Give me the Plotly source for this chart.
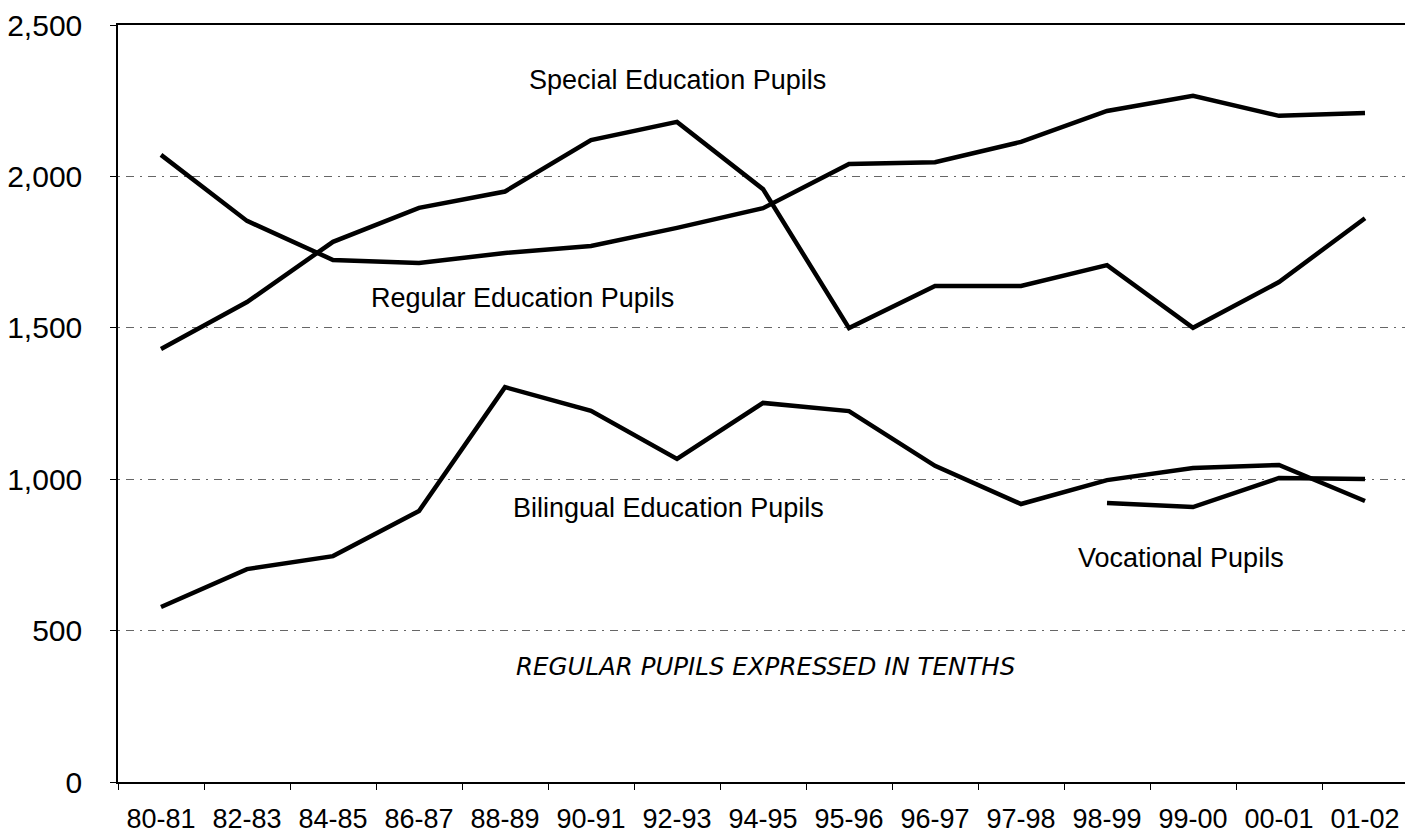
import plotly.graph_objects as go

years = ["80-81", "82-83", "84-85", "86-87", "88-89", "90-91", "92-93", "94-95",
         "95-96", "96-97", "97-98", "98-99", "99-00", "00-01", "01-02"]

regular_tenths = [2071, 1853, 1724, 1714, 1747, 1770, 1830, 1895,
                  2041, 2047, 2114, 2216, 2266, 2200, 2209]
special = [1430, 1585, 1784, 1896, 1950, 2120, 2180, 1958,
           1499, 1638, 1638, 1707, 1500, 1651, 1862]
bilingual = [578, 703, 746, 895, 1304, 1226, 1067, 1252,
             1225, 1044, 918, 997, 1037, 1047, 928]
vocational = [None, None, None, None, None, None, None, None,
              None, None, None, 921, 908, 1004, 1001]

series = [
    ("Regular Education Pupils", regular_tenths),
    ("Special Education Pupils", special),
    ("Bilingual Education Pupils", bilingual),
    ("Vocational Pupils", vocational),
]

fig = go.Figure()
for name, vals in series:
    fig.add_trace(go.Scatter(
        x=years, y=vals, mode="lines", name=name,
        line=dict(color="#000000", width=4.5),
        connectgaps=False, showlegend=False,
    ))

label_font = dict(family="Liberation Sans, Arial, sans-serif", size=27, color="#000000")
labels = [
    ("Special Education Pupils", 6.01, 2318),
    ("Regular Education Pupils", 4.20, 1598),
    ("Bilingual Education Pupils", 5.90, 905),
    ("Vocational Pupils", 11.86, 740),
]
for text, xi, yv in labels:
    fig.add_annotation(x=xi, y=yv, xref="x", yref="y", text=text,
                       showarrow=False, font=label_font,
                       xanchor="center", yanchor="middle")

fig.add_annotation(x=7.03, y=380, xref="x", yref="y",
                   text="REGULAR PUPILS EXPRESSED IN TENTHS",
                   showarrow=False,
                   font=dict(family="DejaVu Sans", size=24.5, color="#000000", style="italic"),
                   xanchor="center", yanchor="middle")

# page body has an 8px default margin, so the figure is sized to fit the window
fig.update_layout(
    width=1405, height=828,
    margin=dict(l=110, r=5, t=17, b=54, autoexpand=False),
    paper_bgcolor="white", plot_bgcolor="white",
    font=dict(family="Liberation Sans, Arial, sans-serif", color="#000000"),
)

fig.update_xaxes(
    type="category", range=[-0.5, 14.5], automargin=False,
    showline=True, linecolor="#000000", linewidth=1.5, mirror=True,
    showgrid=False, ticks="outside", tickson="boundaries",
    ticklen=6, tickcolor="#000000", tickwidth=1,
    tickfont=dict(size=27, color="#000000"),
    ticklabelstandoff=12,
)
fig.update_yaxes(
    range=[0, 2500], tickvals=[0, 500, 1000, 1500, 2000, 2500],
    tickformat=",d", automargin=False,
    showline=True, linecolor="#000000", linewidth=1.5, mirror=True,
    showgrid=True, gridcolor="#666666", gridwidth=1,
    griddash="2px,6px,8px,6px",
    zeroline=False,
    ticks="outside", ticklen=6, tickcolor="#000000",
    tickfont=dict(size=30, color="#000000"),
    ticklabelstandoff=22,
)

fig.write_html("out.html")
